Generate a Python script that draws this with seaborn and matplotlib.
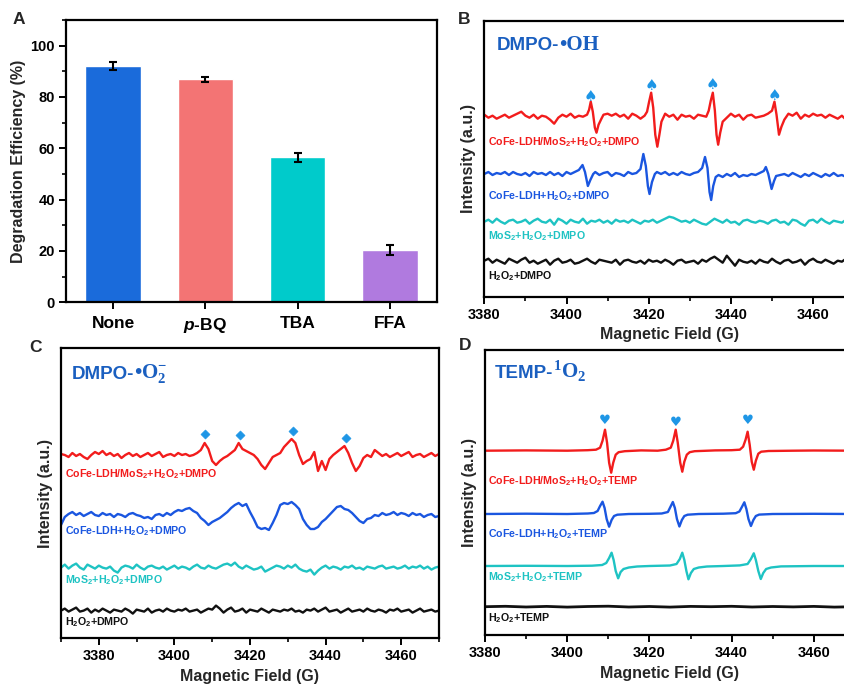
import numpy as np
import pandas as pd
import matplotlib
matplotlib.use("Agg")
import matplotlib.pyplot as plt
import seaborn as sns
from matplotlib.ticker import MultipleLocator

# ---------------- Panel A data ----------------
scavengers = ["None", r"$\mathit{p}$-BQ", "TBA", "FFA"]
efficiency = [92.0, 86.9, 56.5, 20.4]
eff_err = [1.5, 1.0, 1.8, 2.0]
bar_colors = ["#1a6bdb", "#f37474", "#00cbcb", "#b07adf"]

# ---------------- Panel B (DMPO-OH) ----------------
red_b = [(3380,2),(3381,-1),(3382,1),(3383,-2),(3384,0),(3385,2),(3386,-1),(3387,1),(3388,3),(3389,5),
         (3390,1),(3391,-1),(3392,2),(3393,-2),(3394,1),(3395,0),(3396,-3),(3397,-7),(3398,-1),(3399,2),
         (3400,0),(3401,3),(3402,-1),(3403,1),(3404,0),(3405,2),(3405.5,7),(3405.9,15),(3406.4,5),
         (3406.9,-11),(3407.3,-16),(3407.8,-8),(3408.5,-2),(3409,2),(3410,3),(3411,1),(3412,3),(3413,0),
         (3414,2),(3415,-2),(3416,3),(3417,1),(3418,-2),(3419,1),(3419.6,5),(3420.1,15),(3420.6,24),
         (3421.1,9),(3421.6,-18),(3422.1,-30),(3422.6,-18),(3423.1,-5),(3424,3),(3425,0),(3426,2),
         (3427,-3),(3428,2),(3429,0),(3430,1),(3431,-2),(3432,2),(3433,1),(3434,0),(3434.6,6),(3435.1,16),
         (3435.6,24),(3436.1,6),(3436.5,-18),(3436.9,-28),(3437.4,-16),(3438,-5),(3439,-1),(3440,3),
         (3441,0),(3442,2),(3443,-3),(3444,1),(3445,2),(3446,-1),(3447,0),(3448,1),(3449,3),(3450,6),
         (3450.6,15),(3451.1,2),(3451.7,-18),(3452.3,-10),(3453,-3),(3454,3),(3455,1),(3456,4),(3457,-2),
         (3458,2),(3459,0),(3460,3),(3461,1),(3462,2),(3463,-1),(3464,2),(3465,0),(3466,-2),(3467,1),
         (3468,-3),(3469,-1),(3470,-2)]
blue_b = [(3380,0),(3381,2),(3382,-1),(3383,1),(3384,0),(3385,2),(3386,-1),(3387,2),(3388,0),(3389,-1),
          (3390,1),(3391,-2),(3392,2),(3393,0),(3394,1),(3395,-1),(3396,2),(3397,-1),(3398,1),(3399,-2),
          (3400,2),(3401,0),(3402,2),(3403,4),(3403.9,9),(3404.5,2),(3405.2,-12),(3405.8,-6),(3406.5,0),
          (3407,2),(3408,-1),(3409,1),(3410,2),(3411,-2),(3412,1),(3413,0),(3414,-2),(3415,2),(3416,0),
          (3417,1),(3418,5),(3418.7,20),(3419.3,8),(3419.8,-12),(3420.2,-20),(3420.8,-8),(3421.5,0),
          (3422,2),(3423,0),(3424,2),(3425,-1),(3426,1),(3427,-1),(3428,2),(3429,0),(3430,-1),(3431,1),
          (3432,2),(3433,6),(3433.7,17),(3434.3,6),(3434.8,-18),(3435.2,-26),(3435.7,-12),(3436.3,-3),
          (3437,-1),(3438,-3),(3439,0),(3440,-2),(3441,1),(3442,-3),(3443,-1),(3444,-2),(3445,0),(3446,-1),
          (3447,1),(3448,3),(3448.5,7),(3449.1,0),(3449.9,-15),(3450.5,-7),(3451,-2),(3452,-1),(3453,0),
          (3454,-2),(3455,1),(3456,-1),(3457,-3),(3458,0),(3459,-2),(3460,1),(3461,-1),(3462,-3),(3463,0),
          (3464,-2),(3465,1),(3466,-2),(3467,-1),(3468,-3),(3469,0),(3470,-1)]
cyan_b = [0,2,-1,3,0,-2,1,2,-1,0,
          2,-2,1,3,0,-1,2,-3,3,1,
          -2,2,0,-1,3,-2,1,0,2,-1,
          1,-2,2,0,1,-1,2,0,-2,1,
          0,2,-1,1,3,5,4,2,0,1,
          -1,2,0,-2,-3,0,3,1,-1,2,
          -1,0,-3,1,2,0,-1,1,0,-2,
          1,2,-1,0,-3,2,1,-2,-4,1,
          2,-1,3,0,-2,1,0,-1,2,0,
          1]
black_b = [1,3,-1,2,0,-2,3,1,-1,2,
           4,-1,1,-2,0,2,-3,1,3,-1,
           0,2,-2,-1,1,3,0,-2,2,1,
           0,-1,2,-3,1,2,0,-1,1,-2,
           2,0,1,-1,2,0,-3,1,2,-1,
           0,1,-2,2,0,3,5,2,-1,6,
           1,-4,2,0,-1,1,-2,2,0,-1,
           3,0,-2,1,2,-1,0,2,-3,1,
           3,0,-1,2,0,-2,1,0,3,-1,
           -4]
spade_field = [3405.9, 3420.6, 3435.6, 3450.6]
spade_level = [200, 211, 212, 201]

# ---------------- Panel C (DMPO-O2-) ----------------
red_c = [1,0,-2,2,-1,1,-2,-4,0,3,
         1,4,0,2,-1,1,-3,0,2,-1,
         1,-2,0,2,-1,1,3,-2,0,1,
         -1,2,0,1,-1,0,2,5,12,6,
         -6,-10,-6,-3,-1,2,5,12,6,4,
         2,0,-4,-10,-14,-8,-2,0,2,8,
         12,16,12,0,-9,-6,-4,3,-16,-6,
         -15,-4,0,3,6,9,2,-8,-16,-11,
         -3,0,-2,5,2,-1,1,-2,0,2,
         -1,1,3,-2,0,1,-2,0,2,-1,
         1]
blue_c = [-10,-2,1,3,0,2,-1,1,3,0,
          -1,2,0,1,-2,1,0,-2,1,2,
          0,-1,-3,-2,-4,0,1,-1,2,0,
          3,5,4,6,7,4,2,-3,-6,-10,
          -7,-5,-3,0,3,7,10,12,9,11,
          3,-4,-12,-14,-13,-15,-8,0,10,12,
          11,13,10,6,-4,-10,-14,-14,-12,-7,
          -4,0,4,8,9,6,5,2,-2,-6,
          -8,-4,-3,0,-1,2,0,1,3,0,
          2,1,-1,2,0,1,-2,0,1,-2,
          -1]
cyan_c = [0,3,-1,2,4,0,-2,3,1,-1,
          2,0,-1,1,-3,-5,0,2,1,-1,
          3,0,-2,1,2,0,-1,1,-2,0,
          2,-1,1,0,-2,1,3,0,-1,2,
          0,-1,1,3,4,2,5,1,-1,2,
          0,-2,-1,1,-4,-2,0,2,1,-1,
          2,0,3,-1,-3,-4,-2,-7,-3,0,
          2,-1,1,0,-2,1,0,2,-1,0,
          -2,1,0,-1,1,2,-1,0,1,-1,
          0,2,-1,1,0,2,-1,1,-2,0,
          1]
black_c = [0,2,-1,1,3,-1,0,2,-2,1,
           -1,2,0,-2,1,0,-1,2,0,-3,
           1,0,-1,2,-2,0,1,-1,2,0,
           -1,1,0,2,-1,0,1,-2,0,2,
           1,5,2,-2,1,3,-1,0,2,-2,
           1,0,-1,2,0,-2,1,0,-1,1,
           0,2,-1,0,-2,1,0,2,-1,1,
           3,-1,0,1,-2,0,2,-1,0,1,
           -1,2,0,-1,1,0,-2,1,0,2,
           -1,0,1,-2,0,2,-1,0,1,-1,
           0]
diamond_field = [3408.0, 3417.3, 3431.3, 3445.3]
diamond_level = [204, 203, 207, 200]

# ---------------- Panel D (TEMP-1O2) ----------------
red_d = [(3380,0),(3390,0.3),(3400,0),(3405,0.5),(3407,1),(3408,3),(3408.6,10),(3409.2,21),(3409.7,8),
         (3410.2,-12),(3410.7,-22),(3411.2,-12),(3411.8,-4),(3412.5,-1.5),(3414,-0.5),(3418,0.3),(3422,0),
         (3424,1),(3425.2,3),(3425.8,10),(3426.4,21),(3426.9,8),(3427.5,-12),(3428.0,-21),(3428.5,-11),
         (3429.1,-4),(3429.8,-1.5),(3431,-0.5),(3436,0.3),(3440,0.5),(3442,1),(3442.8,4),(3443.4,11),
         (3443.9,19),(3444.4,6),(3444.9,-11),(3445.4,-19),(3445.9,-10),(3446.5,-3),(3447.2,-1),
         (3449,-0.3),(3455,0),(3460,0.2),(3470,0)]
blue_d = [(3380,0),(3390,0.3),(3400,0),(3405,0.5),(3406.5,1),(3407.4,3),(3408.0,8),(3408.6,12.3),
          (3409.1,6),(3409.6,-5),(3410.2,-12.7),(3410.8,-6),(3411.4,-2),(3412.2,-0.7),(3415,0),(3420,0.2),
          (3423,0.5),(3424.5,2),(3425.1,7),(3425.7,12),(3426.2,6),(3426.7,-5),(3427.3,-12.5),(3427.9,-6),
          (3428.5,-2),(3429.3,-0.7),(3432,0),(3438,0.3),(3441,0.8),(3441.9,2.5),(3442.5,7),(3443.1,11.7),
          (3443.6,5),(3444.1,-5),(3444.7,-12),(3445.3,-6),(3445.9,-2),(3446.7,-0.6),(3450,0),(3460,0.2),
          (3470,0)]
cyan_d = [(3380,0),(3390,0.2),(3400,0),(3406,0.3),(3408.5,1),(3409.5,3),(3410.2,8),(3410.8,13.3),
          (3411.3,6),(3411.8,-5),(3412.4,-12.3),(3413.0,-6),(3413.7,-3),(3415,-1.5),(3417,-0.5),(3420,0),
          (3425,0.5),(3426.6,2),(3427.4,7),(3428.0,13.3),(3428.5,6),(3429.0,-5),(3429.5,-13.3),(3430.1,-7),
          (3430.8,-3),(3432,-1.5),(3434,-0.5),(3438,0),(3442,0.6),(3443.9,2),(3444.7,7),(3445.4,12.7),
          (3445.9,6),(3446.5,-5),(3447.1,-13),(3447.7,-7),(3448.4,-3),(3449.6,-1.5),(3452,-0.4),(3460,0),
          (3470,0)]
black_d = [(3380,0),(3385,0.4),(3390,-0.3),(3395,0.3),(3400,-0.4),(3405,0.2),(3410,0.5),(3415,-0.3),
           (3420,0.2),(3425,-0.4),(3430,0.3),(3435,0),(3440,0.4),(3445,-0.3),(3450,0.2),(3455,-0.2),
           (3460,0.3),(3465,-0.4),(3470,0)]
heart_field = [3409.2, 3426.4, 3443.9]
heart_level = [215, 213, 214]

trace_colors = ["#f21c1c", "#1a56e0", "#1ec3c3", "#111111"]
marker_color = "#1e96e6"
title_color = "#1a5fc0"

lab_dmpo = ["CoFe-LDH/MoS$_{\\mathregular{2}}$+H$_{\\mathregular{2}}$O$_{\\mathregular{2}}$+DMPO",
            "CoFe-LDH+H$_{\\mathregular{2}}$O$_{\\mathregular{2}}$+DMPO",
            "MoS$_{\\mathregular{2}}$+H$_{\\mathregular{2}}$O$_{\\mathregular{2}}$+DMPO",
            "H$_{\\mathregular{2}}$O$_{\\mathregular{2}}$+DMPO"]
lab_temp = ["CoFe-LDH/MoS$_{\\mathregular{2}}$+H$_{\\mathregular{2}}$O$_{\\mathregular{2}}$+TEMP",
            "CoFe-LDH+H$_{\\mathregular{2}}$O$_{\\mathregular{2}}$+TEMP",
            "MoS$_{\\mathregular{2}}$+H$_{\\mathregular{2}}$O$_{\\mathregular{2}}$+TEMP",
            "H$_{\\mathregular{2}}$O$_{\\mathregular{2}}$+TEMP"]

# ---------------- styling ----------------
sns.set_theme(style="ticks")
plt.rcParams["font.family"] = ["Liberation Sans", "DejaVu Sans"]
plt.rcParams["font.weight"] = "bold"
plt.rcParams["axes.labelweight"] = "bold"
plt.rcParams["mathtext.fontset"] = "custom"
plt.rcParams["mathtext.it"] = "Liberation Sans:italic:bold"
plt.rcParams["mathtext.rm"] = "Liberation Sans:bold"
plt.rcParams["mathtext.bf"] = "Liberation Sans:bold"

W, H = 845, 686
fig = plt.figure(figsize=(W / 100, H / 100), dpi=100)


def px_axes(l, t, r, b):
    return fig.add_axes([l / W, 1 - b / H, (r - l) / W, (b - t) / H])


def style_axes(ax):
    for s in ax.spines.values():
        s.set_visible(True)
        s.set_linewidth(1.6)
        s.set_color("black")
    ax.tick_params(which="major", direction="out", length=5, width=1.4, colors="black")
    ax.tick_params(which="minor", direction="out", length=3, width=1.2, colors="black")


# ---------------- Panel A ----------------
axA = px_axes(66, 20, 437, 302.3)
dfA = pd.DataFrame({"cat": scavengers, "val": efficiency})
sns.barplot(data=dfA, x="cat", y="val", hue="cat", palette=bar_colors, legend=False,
            width=0.6, saturation=1, ax=axA, errorbar=None)
axA.errorbar(np.arange(len(efficiency)), efficiency, yerr=eff_err, fmt="none", ecolor="black",
             elinewidth=1.5, capsize=2.8, capthick=1.5)
axA.set_xlim(-0.51, 3.51)
axA.set_ylim(0, 110)
axA.yaxis.set_major_locator(MultipleLocator(20))
axA.yaxis.set_minor_locator(MultipleLocator(10))
style_axes(axA)
axA.tick_params(axis="x", labelsize=12.5, pad=5)
axA.tick_params(axis="y", labelsize=10.5, pad=3)
axA.set_xlabel("")
axA.set_ylabel("Degradation Efficiency (%)", fontsize=11.5, labelpad=3)
for lbl in axA.get_xticklabels() + axA.get_yticklabels():
    lbl.set_fontweight("bold")


def spectrum_axes(ax, xlim, ylim):
    ax.set_xlim(*xlim)
    ax.set_ylim(*ylim)
    ax.set_yticks([])
    ax.xaxis.set_major_locator(MultipleLocator(20))
    ax.xaxis.set_minor_locator(MultipleLocator(10))
    style_axes(ax)
    ax.tick_params(axis="x", labelsize=10.5, pad=3)
    ax.set_xlabel("Magnetic Field (G)", fontsize=11.5, labelpad=4)
    ax.set_ylabel("Intensity (a.u.)", fontsize=11.5, labelpad=6)
    for lbl in ax.get_xticklabels():
        lbl.set_fontweight("bold")


def draw_trace(ax, fields, values, offset, color, lw=1.7):
    fields = np.asarray(fields, float)
    values = np.asarray(values, float) + offset
    sns.lineplot(x=fields, y=values, ax=ax, color=color, lw=lw, estimator=None, sort=False,
                 legend=False)


def unzip(pairs):
    f, v = zip(*pairs)
    return list(f), list(v)


titles = []


def title(ax, x, y, sans, serif):
    t1 = ax.text(x, y, sans, transform=ax.transAxes, fontsize=13.5, fontweight="bold",
                 color=title_color, va="baseline", ha="left")
    t2 = ax.text(x, y, serif, transform=ax.transAxes, fontsize=15, fontweight="bold",
                 family=["Liberation Serif", "DejaVu Serif"], color=title_color,
                 va="baseline", ha="left")
    titles.append((ax, t1, t2))


def labels(ax, x, ys, texts):
    for y, txt, c in zip(ys, texts, trace_colors):
        ax.text(x, y, txt, fontsize=7.7, fontweight="bold", color=c, va="center", ha="left")


# ---------------- Panel B ----------------
axB = px_axes(484.3, 20.7, 854.2, 296.7)
grid_b = np.arange(3380, 3471, 1.0)
offs_b = [180, 122.7, 75, 35]
f, v = unzip(red_b); draw_trace(axB, f, v, offs_b[0], trace_colors[0])
f, v = unzip(blue_b); draw_trace(axB, f, v, offs_b[1], trace_colors[1])
draw_trace(axB, grid_b, cyan_b, offs_b[2], trace_colors[2])
draw_trace(axB, grid_b, black_b, offs_b[3], trace_colors[3])
for fx, fy in zip(spade_field, spade_level):
    axB.text(fx, fy, "\u2660", fontsize=11, color=marker_color, ha="center", va="center",
             family="DejaVu Sans")
spectrum_axes(axB, (3380, 3470), (0, 276))
labels(axB, 3380.9, [155, 101, 60.7, 20.7], lab_dmpo)
title(axB, 0.034, 0.895, "DMPO-", "\u2022OH")

# ---------------- Panel C ----------------
axC = px_axes(61, 348.3, 439, 638.3)
grid_c = np.arange(3370, 3471, 1.0)
offs_c = [183.3, 123.3, 70.7, 27.7]
for vals, off, c in zip([red_c, blue_c, cyan_c, black_c], offs_c, trace_colors):
    draw_trace(axC, grid_c, vals, off, c)
sns.scatterplot(x=diamond_field, y=diamond_level, ax=axC, marker="D", s=22, color=marker_color,
                edgecolor=marker_color, legend=False, zorder=5)
spectrum_axes(axC, (3370, 3470), (0, 290))
labels(axC, 3371.1, [164.3, 107.3, 58.3, 16.6], lab_dmpo)
title(axC, 0.028, 0.895, "DMPO-", "\u2022O$_{\\mathregular{2}}^{\\mathregular{-}}$")

# ---------------- Panel D ----------------
axD = px_axes(485, 350, 854.9, 635)
offs_d = [184.3, 121, 69, 28.3]
for pairs, off, c in zip([red_d, blue_d, cyan_d, black_d], offs_d, trace_colors):
    f, v = unzip(pairs)
    draw_trace(axD, f, v, off, c, lw=1.7 if c != "#111111" else 2.0)
for fx, fy in zip(heart_field, heart_level):
    axD.text(fx, fy, "\u2665", fontsize=9.5, color=marker_color, ha="center", va="center",
             family="DejaVu Sans")
spectrum_axes(axD, (3380, 3470), (0, 285))
labels(axD, 3380.8, [154.3, 101, 57.7, 16.7], lab_temp)
title(axD, 0.027, 0.9, "TEMP-", "$^{\\mathregular{1}}$O$_{\\mathregular{2}}$")

# panel letters
for letter, (x, y) in zip("ABCD", [(19, 20), (464, 19), (36, 347), (465, 346)]):
    fig.text(x / W, 1 - y / H, letter, fontsize=12.5, fontweight="bold", ha="center", va="center")

# place the serif part of each title right after the sans part, on the same baseline
fig.canvas.draw()
renderer = fig.canvas.get_renderer()
for ax, t1, t2 in titles:
    bb = t1.get_window_extent(renderer)
    x_ax = ax.transAxes.inverted().transform((bb.x1, bb.y0))[0]
    t2.set_x(x_ax)

fig.savefig("out.png", dpi=100)
